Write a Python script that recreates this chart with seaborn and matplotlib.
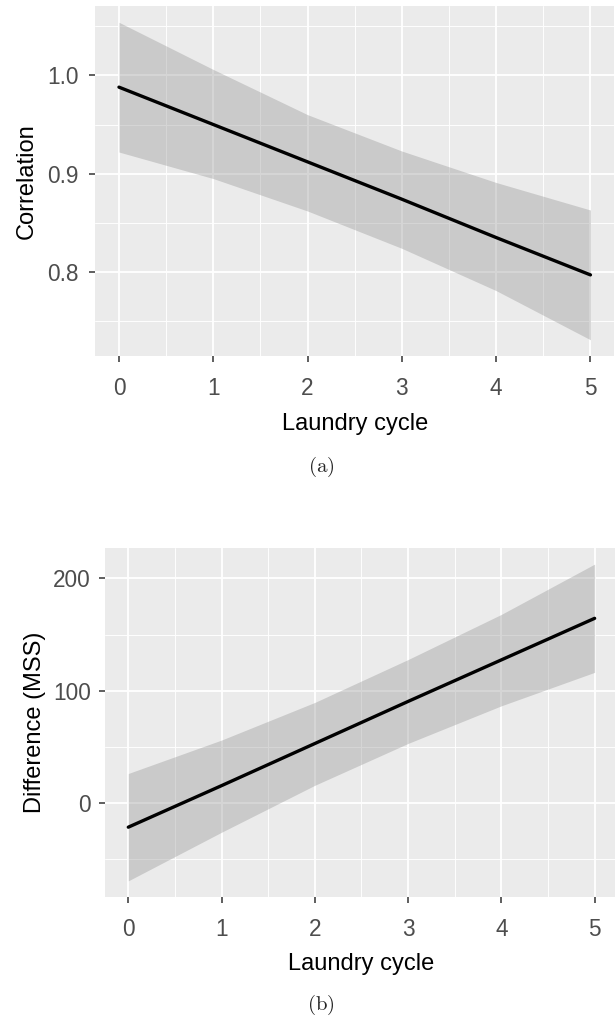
import seaborn as sns
import matplotlib.pyplot as plt
import pandas as pd

# values (fitted line + confidence band)
cycles = [0, 1, 2, 3, 4, 5]

corr_fit = [0.988, 0.950, 0.912, 0.874, 0.835, 0.797]
corr_lo = [0.922, 0.895, 0.862, 0.824, 0.781, 0.731]
corr_hi = [1.054, 1.006, 0.960, 0.923, 0.891, 0.863]
corr_ticks = [0.8, 0.9, 1.0]
corr_minor = [0.75, 0.85, 0.95, 1.05]

diff_fit = [-21.5, 15.5, 53.0, 90.5, 127.5, 164.5]
diff_lo = [-69.3, -26.0, 15.8, 53.1, 86.6, 116.4]
diff_hi = [26.3, 56.1, 89.6, 127.8, 168.0, 212.8]
diff_ticks = [0, 100, 200]
diff_minor = [-50, 50, 150]

x_title = "Laundry cycle"

sns.set_theme(style="darkgrid", rc={
    "axes.facecolor": "#EBEBEB",
    "grid.color": "white",
    "axes.edgecolor": "#EBEBEB",
})
plt.rcParams["font.family"] = ["Liberation Sans", "DejaVu Sans"]
plt.rcParams["mathtext.fontset"] = "cm"

fig = plt.figure(figsize=(6.15, 10.17), dpi=100)
ax_a = fig.add_axes([0.1551, 0.6503, 0.8433, 0.3434])
ax_b = fig.add_axes([0.1707, 0.1183, 0.8341, 0.3426])


def draw_panel(ax, fit, lo, hi, ylab, yticks, yminor, ylab_x, xlab_y, ypad):
    df = pd.DataFrame({"cycle": cycles, "fit": fit, "lo": lo, "hi": hi})
    ax.fill_between(df["cycle"], df["lo"], df["hi"], color="#999999",
                    alpha=0.4, linewidth=0, zorder=2)
    sns.lineplot(data=df, x="cycle", y="fit", color="black", linewidth=2.4,
                 ax=ax, zorder=3)

    # ggplot style 5% expansion of the data range
    x0, x1 = min(cycles), max(cycles)
    ax.set_xlim(x0 - 0.05 * (x1 - x0), x1 + 0.05 * (x1 - x0))
    y0, y1 = min(lo), max(hi)
    ax.set_ylim(y0 - 0.05 * (y1 - y0), y1 + 0.05 * (y1 - y0))

    ax.set_xticks(cycles)
    ax.set_xticks([c + 0.5 for c in cycles[:-1]], minor=True)
    ax.set_yticks(yticks)
    ax.set_yticks(yminor, minor=True)
    if isinstance(yticks[0], float):
        ax.set_yticklabels([f"{t:.1f}" for t in yticks])
    else:
        ax.set_yticklabels([str(t) for t in yticks])

    ax.grid(which="major", color="white", linewidth=1.3)
    ax.grid(which="minor", color="white", linewidth=0.65)
    ax.set_axisbelow(True)
    for s in ax.spines.values():
        s.set_visible(False)

    ax.tick_params(which="major", length=4.3, width=1.1, color="#333333",
                   labelcolor="#4D4D4D", labelsize=16.3)
    ax.tick_params(which="minor", length=0)
    ax.tick_params(axis="x", which="major", pad=11, bottom=True)
    ax.tick_params(axis="y", which="major", pad=ypad, left=True)

    ax.set_xlabel(x_title, fontsize=17, color="black", va="baseline")
    ax.xaxis.set_label_coords(0.5, xlab_y)
    ax.set_ylabel(ylab, fontsize=17, color="black", va="baseline")
    ax.yaxis.set_label_coords(ylab_x, 0.5)


draw_panel(ax_a, corr_fit, corr_lo, corr_hi, "Correlation",
           corr_ticks, corr_minor, -0.1209, -0.2128, 7.9)
draw_panel(ax_b, diff_fit, diff_lo, diff_hi, "Difference (MSS)",
           diff_ticks, diff_minor, -0.125, -0.2104, 5.9)

fig.text(321 / 615, 1 - 467 / 1017, r"$\mathrm{(a)}$", ha="center",
         va="center", fontsize=15)
fig.text(321 / 615, 1 - 1005 / 1017, r"$\mathrm{(b)}$", ha="center",
         va="center", fontsize=15)

fig.savefig("out.png", dpi=100)
